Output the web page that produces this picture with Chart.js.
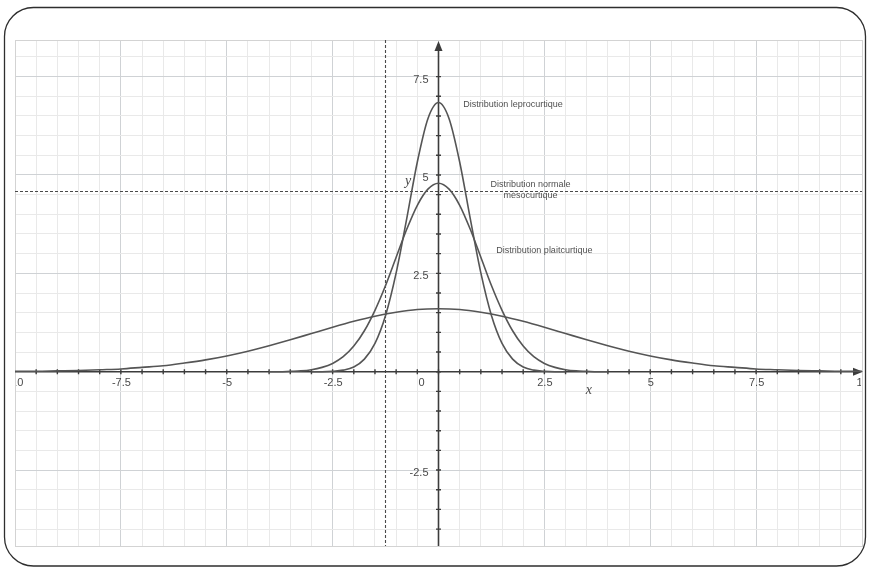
<!DOCTYPE html>
<html lang="fr">
<head>
<meta charset="utf-8">
<title>Distributions : leptocurtique, normale, platicurtique</title>
<script src="https://cdn.jsdelivr.net/npm/chart.js@4/dist/chart.umd.min.js"></script>
<style>
  html, body { margin: 0; padding: 0; background: #fff; }
  #wrap { position: relative; width: 869px; height: 567px; }
</style>
</head>
<body>
<div id="wrap"><canvas id="c"></canvas></div>
<script>
// Courbe leptocurtique (pointue)
const lepX = [-3, -2.75, -2.5, -2.25, -2, -1.75, -1.5, -1.25, -1, -0.75, -0.5, -0.25, 0,
              0.25, 0.5, 0.75, 1, 1.25, 1.5, 1.75, 2, 2.25, 2.5, 2.75, 3];
const lepY = [0.00, 0.00, 0.01, 0.04, 0.12, 0.32, 0.72, 1.43, 2.51, 3.89, 5.33, 6.43, 6.84,
              6.43, 5.33, 3.89, 2.51, 1.43, 0.72, 0.32, 0.12, 0.04, 0.01, 0.00, 0.00];

// Courbe normale (mésocurtique)
const normX = [-4, -3.75, -3.5, -3.25, -3, -2.75, -2.5, -2.25, -2, -1.75, -1.5, -1.25, -1, -0.75, -0.5, -0.25, 0,
               0.25, 0.5, 0.75, 1, 1.25, 1.5, 1.75, 2, 2.25, 2.5, 2.75, 3, 3.25, 3.5, 3.75, 4];
const normY = [0.00, 0.00, 0.01, 0.02, 0.05, 0.11, 0.21, 0.38, 0.65, 1.04, 1.56, 2.19, 2.91, 3.62, 4.23, 4.64, 4.79,
               4.64, 4.23, 3.62, 2.91, 2.19, 1.56, 1.04, 0.65, 0.38, 0.21, 0.11, 0.05, 0.02, 0.01, 0.00, 0.00];

// Courbe platicurtique (aplatie)
const platX = [-10, -9.5, -9, -8.5, -8, -7.5, -7, -6.5, -6, -5.5, -5, -4.5, -4, -3.5, -3, -2.5, -2, -1.5, -1, -0.5, 0,
               0.5, 1, 1.5, 2, 2.5, 3, 3.5, 4, 4.5, 5, 5.5, 6, 6.5, 7, 7.5, 8, 8.5, 9, 9.5, 10];
const platY = [0.01, 0.01, 0.02, 0.03, 0.05, 0.07, 0.11, 0.15, 0.22, 0.30, 0.40, 0.52, 0.66, 0.81, 0.97, 1.13, 1.28, 1.41, 1.51, 1.58, 1.60,
               1.58, 1.51, 1.41, 1.28, 1.13, 0.97, 0.81, 0.66, 0.52, 0.40, 0.30, 0.22, 0.15, 0.11, 0.07, 0.05, 0.03, 0.02, 0.01, 0.01];

// Graduations numérotées
const xTickValues = [-10, -7.5, -5, -2.5, 2.5, 5, 7.5, 10];
const yTickValues = [-2.5, 2.5, 5, 7.5];

// Droites pointillées de repère
const guideX = -1.25;
const guideY = 4.6;

// Étiquettes des courbes : [texte, x, y]
const curveNotes = [
  ['Distribution leprocurtique', 1.76, 6.8],
  ['Distribution normale', 2.17, 4.75],
  ['mésocurtique', 2.17, 4.47],
  ['Distribution plaitcurtique', 2.5, 3.07]
];

const pts = (xs, ys) => xs.map((x, i) => ({ x, y: ys[i] }));

const AXIS = '#3c3c3c';
const TEXT = '#4a4a4a';

function gridColor(ctx) {
  const v = ctx.tick ? ctx.tick.value : 0;
  const r = Math.abs(v / 0.5 - Math.round(v / 0.5));
  if (r > 1e-6) return 'rgba(0,0,0,0)';
  const r2 = Math.abs(v / 2.5 - Math.round(v / 2.5));
  return r2 < 1e-6 ? '#cfd2d5' : '#e9e9e9';
}

const decor = {
  id: 'decor',
  beforeDraw(chart) {
    const ctx = chart.ctx;
    ctx.save();
    ctx.fillStyle = '#ffffff';
    ctx.fillRect(0, 0, chart.width, chart.height);
    ctx.strokeStyle = '#2e2e2e';
    ctx.lineWidth = 1.3;
    ctx.beginPath();
    ctx.roundRect(4.5, 7.5, 861, 558.5, 29);
    ctx.stroke();
    ctx.restore();
  },
  beforeDatasetsDraw(chart) {
    const { ctx, chartArea: a, scales: { x, y } } = chart;
    ctx.save();
    // cadre de la zone du graphique
    ctx.strokeStyle = '#d3d3d3';
    ctx.lineWidth = 1;
    ctx.strokeRect(Math.round(a.left) + 0.5, Math.round(a.top) + 0.5, Math.round(a.width), Math.round(a.height));

    // droites pointillées
    ctx.strokeStyle = '#4a4a4a';
    ctx.lineWidth = 1.1;
    ctx.setLineDash([3, 2]);
    const gx = Math.round(x.getPixelForValue(guideX)) - 0.5;
    const gy = Math.round(y.getPixelForValue(guideY)) + 0.5;
    ctx.beginPath();
    ctx.moveTo(gx, a.top); ctx.lineTo(gx, a.bottom);
    ctx.moveTo(a.left, gy); ctx.lineTo(a.right, gy);
    ctx.stroke();
    ctx.setLineDash([]);

    // axes avec flèches
    const x0 = x.getPixelForValue(0);
    const y0 = y.getPixelForValue(0);
    ctx.strokeStyle = AXIS;
    ctx.fillStyle = AXIS;
    ctx.lineWidth = 1.6;
    ctx.beginPath();
    ctx.moveTo(a.left, y0); ctx.lineTo(a.right - 4, y0);
    ctx.moveTo(x0, a.bottom); ctx.lineTo(x0, a.top + 4);
    ctx.stroke();
    ctx.beginPath();
    ctx.moveTo(a.right + 1, y0); ctx.lineTo(a.right - 9, y0 - 4); ctx.lineTo(a.right - 9, y0 + 4); ctx.closePath();
    ctx.fill();
    ctx.beginPath();
    ctx.moveTo(x0, a.top + 1); ctx.lineTo(x0 - 4, a.top + 11); ctx.lineTo(x0 + 4, a.top + 11); ctx.closePath();
    ctx.fill();

    // petites graduations sur les axes
    ctx.lineWidth = 1.4;
    ctx.beginPath();
    x.ticks.forEach(t => {
      const v = t.value;
      if (Math.abs(v / 0.5 - Math.round(v / 0.5)) > 1e-6 || v <= x.min || v >= x.max) return;
      const px = x.getPixelForValue(v);
      ctx.moveTo(px, y0 - 2.5); ctx.lineTo(px, y0 + 2.5);
    });
    y.ticks.forEach(t => {
      const v = t.value;
      if (Math.abs(v / 0.5 - Math.round(v / 0.5)) > 1e-6 || v <= y.min || v >= y.max - 0.5) return;
      const py = y.getPixelForValue(v);
      ctx.moveTo(x0 - 2.5, py); ctx.lineTo(x0 + 2.5, py);
    });
    ctx.stroke();
    ctx.restore();
  },
  afterDatasetsDraw(chart) {
    const { ctx, chartArea: a, scales: { x, y } } = chart;
    const x0 = x.getPixelForValue(0);
    const y0 = y.getPixelForValue(0);
    ctx.save();
    ctx.fillStyle = TEXT;
    ctx.font = '11px "Liberation Sans", Arial, sans-serif';
    ctx.textBaseline = 'middle';

    // valeurs de l'axe des x (coupées au bord du graphique)
    ctx.save();
    ctx.beginPath();
    ctx.rect(a.left + 1.5, a.top, a.width - 2.5, a.height);
    ctx.clip();
    ctx.textAlign = 'center';
    xTickValues.forEach(v => {
      ctx.fillText(String(v), x.getPixelForValue(v) + 0.5, y0 + 11);
    });
    ctx.restore();

    // origine
    ctx.textAlign = 'right';
    ctx.fillText('0', x0 - 14, y0 + 11);

    // valeurs de l'axe des y
    yTickValues.forEach(v => {
      ctx.fillText(String(v), x0 - 10, y.getPixelForValue(v) + 3);
    });

    // noms des axes
    ctx.font = 'italic 14px "Liberation Serif", "Times New Roman", serif';
    ctx.textAlign = 'center';
    ctx.fillText('x', x.getPixelForValue(3.55), y0 + 19);
    ctx.fillText('y', x.getPixelForValue(-0.72), y.getPixelForValue(4.83));

    // étiquettes des courbes
    ctx.font = '9px "Liberation Sans", Arial, sans-serif';
    ctx.fillStyle = '#505050';
    ctx.textAlign = 'center';
    curveNotes.forEach(([txt, vx, vy]) => {
      ctx.fillText(txt, x.getPixelForValue(vx), y.getPixelForValue(vy));
    });
    ctx.restore();
  }
};

const lineStyle = {
  showLine: true,
  borderColor: '#555555',
  borderWidth: 1.6,
  pointRadius: 0,
  pointHoverRadius: 0,
  fill: false,
  cubicInterpolationMode: 'monotone'
};

new Chart(document.getElementById('c'), {
  type: 'scatter',
  data: {
    datasets: [
      Object.assign({ label: 'Distribution leprocurtique', data: pts(lepX, lepY) }, lineStyle),
      Object.assign({ label: 'Distribution normale mésocurtique', data: pts(normX, normY) }, lineStyle),
      Object.assign({ label: 'Distribution plaitcurtique', data: pts(platX, platY) }, lineStyle)
    ]
  },
  options: {
    responsive: true,
    maintainAspectRatio: false,
    animation: false,
    events: [],
    layout: { padding: { left: 15, top: 40, right: 7, bottom: 21 } },
    plugins: { legend: { display: false }, tooltip: { enabled: false } },
    scales: {
      x: {
        type: 'linear',
        min: -10, max: 10,
        ticks: { display: false, stepSize: 0.5 },
        grid: { color: gridColor, lineWidth: 1, drawTicks: false },
        border: { display: false }
      },
      y: {
        type: 'linear',
        min: -4.43, max: 8.43,
        ticks: { display: false, stepSize: 0.5 },
        grid: { color: gridColor, lineWidth: 1, drawTicks: false },
        border: { display: false }
      }
    }
  },
  plugins: [decor]
});
</script>
</body>
</html>
